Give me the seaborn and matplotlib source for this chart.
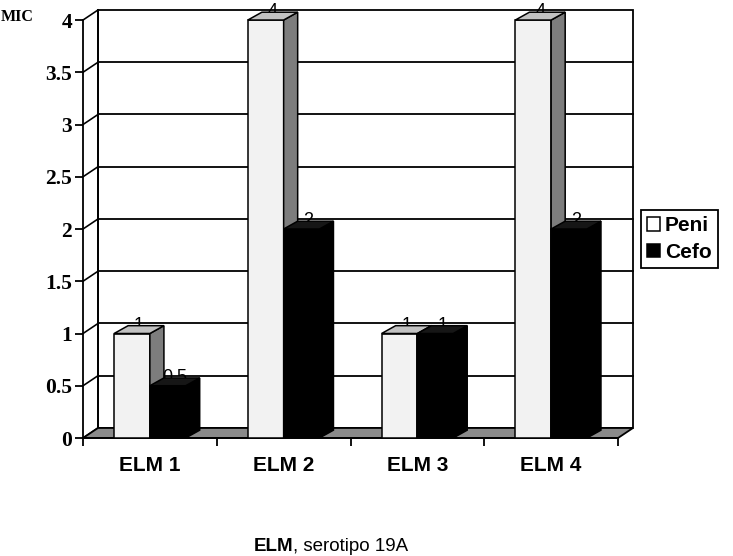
import matplotlib
matplotlib.use("Agg")
import matplotlib.pyplot as plt
from matplotlib.patches import Polygon, Rectangle, Patch
import pandas as pd
import seaborn as sns

# ---- data -------------------------------------------------------------
cepas = ["ELM 1", "ELM 2", "ELM 3", "ELM 4"]
peni = [1, 4, 1, 4]
cefo = [0.5, 2, 1, 2]
series = ["Peni", "Cefo"]
yticks = [0, 0.5, 1, 1.5, 2, 2.5, 3, 3.5, 4]
ytick_labels = ["0", "0.5", "1", "1.5", "2", "2.5", "3", "3.5", "4"]
y_title = "MIC"
x_title_bold = "ELM"
x_title_rest = ", serotipo 19A"

df = pd.DataFrame({
    "cepa": cepas * 2,
    "mic": peni + cefo,
    "antibiotico": [series[0]] * len(cepas) + [series[1]] * len(cepas),
})

# ---- styling ----------------------------------------------------------
face = {series[0]: "#f2f2f2", series[1]: "#000000"}
side = {series[0]: "#7d7d7d", series[1]: "#000000"}
top = {series[0]: "#c2c2c2", series[1]: "#161616"}
LW = 1.3
SANS = "Liberation Sans"
SERIF = "Liberation Serif"

W, H = 733, 556
fig = plt.figure(figsize=(W / 100, H / 100), dpi=100)
fig.patch.set_facecolor("white")
ax = fig.add_axes([83 / W, 1 - 438 / H, 550 / W, 428 / H])

# depth of the 3-D box and of the columns, in data units
wdx, wdy = 0.112, 0.096
bdx, bdy = 0.105, 0.075

sns.barplot(data=df, x="cepa", y="mic", hue="antibiotico", order=cepas,
            hue_order=series, palette=[face[s] for s in series],
            width=0.535, gap=0, errorbar=None, edgecolor="black",
            linewidth=1.1, saturation=1, legend=False, ax=ax)

ax.set_xlim(-0.5, 3.5 + wdx)
ax.set_ylim(0, yticks[-1] + wdy)
ax.set_facecolor("none")

# columns: front face from seaborn, plus side and top faces
bars = sorted(ax.patches, key=lambda p: p.get_x())
names = [series[0], series[1]] * len(cepas)
for i, (p, s) in enumerate(zip(bars, names)):
    z = 3 + i * 0.5
    p.set_zorder(z)
    x0, w, h = p.get_x(), p.get_width(), p.get_height()
    x1 = x0 + w
    ax.add_patch(Polygon([(x1, 0), (x1 + bdx, bdy), (x1 + bdx, h + bdy), (x1, h)],
                         closed=True, fc=side[s], ec="black", lw=1.1, zorder=z))
    ax.add_patch(Polygon([(x0, h), (x1, h), (x1 + bdx, h + bdy), (x0 + bdx, h + bdy)],
                         closed=True, fc=top[s], ec="black", lw=1.1, zorder=z + 0.2))
    ax.text(x0 + w / 2 + bdx / 2, h + 0.035, f"{h:g}", ha="center", va="baseline",
            fontsize=13, family=SANS, color="black", zorder=z + 0.1)

# back wall, gridlines, side-wall stubs and floor
ax.add_patch(Rectangle((-0.5 + wdx, wdy), 4, yticks[-1], fc="white", ec="black",
                       lw=LW, zorder=0, clip_on=False))
for v in yticks:
    if 0 < v < yticks[-1]:
        ax.plot([-0.5 + wdx, 3.5 + wdx], [v + wdy] * 2, color="black", lw=LW,
                zorder=0.5, clip_on=False)
    ax.plot([-0.5, -0.5 + wdx], [v, v + wdy], color="black", lw=LW * 0.9,
            zorder=0.5, clip_on=False)
ax.plot([-0.5 + wdx] * 2, [wdy, yticks[-1] + wdy], color="black", lw=LW,
        zorder=0.6, clip_on=False)
ax.add_patch(Polygon([(-0.5, 0), (3.5, 0), (3.5 + wdx, wdy), (-0.5 + wdx, wdy)],
                     closed=True, fc="#8a8a8a", ec="black", lw=LW, zorder=1,
                     clip_on=False))

# axes
for sp in ["top", "right"]:
    ax.spines[sp].set_visible(False)
for sp in ["left", "bottom"]:
    ax.spines[sp].set_linewidth(LW)
    ax.spines[sp].set_zorder(2)
ax.spines["left"].set_bounds(0, yticks[-1])
ax.spines["bottom"].set_bounds(-0.5, 3.5)

ax.set_yticks(yticks, ytick_labels)
ax.tick_params(axis="y", length=6, width=LW, pad=2)
for t in ax.get_yticklabels():
    t.set_fontfamily(SERIF)
    t.set_fontweight("bold")
    t.set_fontsize(15.5)

ax.set_xticks(range(len(cepas)), cepas)
ax.set_xticks([-0.5, 0.5, 1.5, 2.5, 3.5], minor=True)
ax.tick_params(axis="x", which="major", length=0, pad=13)
ax.tick_params(axis="x", which="minor", length=6, width=LW)
for t in ax.get_xticklabels():
    t.set_fontfamily(SANS)
    t.set_fontweight("bold")
    t.set_fontsize(15)
ax.set_xlabel("")
ax.set_ylabel("")

# titles
fig.text(1 / W, 1 - 17 / H, y_title, ha="left", va="center", family=SERIF,
         weight="bold", fontsize=11.5)
fig.text(293 / W, 5 / H, x_title_bold, ha="right", va="baseline", family=SANS,
         weight="bold", fontsize=13.5)
fig.text(293 / W, 5 / H, x_title_rest, ha="left", va="baseline", family=SANS,
         fontsize=13.5)

# legend
handles = [Patch(fc="white", ec="black", lw=1.1, label=series[0]),
           Patch(fc="black", ec="black", lw=1.1, label=series[1])]
leg = fig.legend(handles=handles, loc="upper left",
                 bbox_to_anchor=(641 / W, 1 - 210 / H), frameon=True,
                 fancybox=False, edgecolor="black", framealpha=1,
                 prop=dict(family=SANS, weight="bold", size=15),
                 handlelength=0.6, handleheight=0.6, handletextpad=0.25,
                 borderpad=0.3, labelspacing=0.35, borderaxespad=0)
leg.get_frame().set_linewidth(LW)

fig.savefig("out.png", dpi=100, facecolor="white")
